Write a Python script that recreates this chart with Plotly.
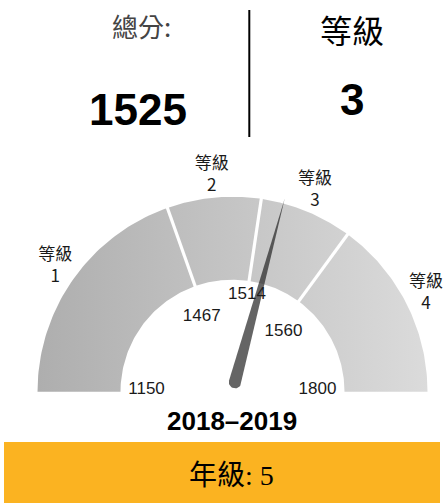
import math
import plotly.graph_objects as go

# ---------------- data ----------------
band_edges = [1150, 1467, 1514, 1560, 1800]
band_levels = [1, 2, 3, 4]
band_word = "等級"
score = 1525
score_label = "總分:"
level_label = "等級"
school_year = "2018–2019"
grade_label = "年級"
grade = 5

# ---------------- style / layout ----------------
W, H = 448, 503
CX, CY = 232.5, 391.7          # gauge centre (px from top-left)
R_IN, R_OUT = 112.0, 195.0
NEEDLE_TIP, NEEDLE_BASE, NEEDLE_W = 200.5, 10.0, 6.3
band_arc_deg = [70.5, 28.0, 27.7, 53.8]   # arc span of each band on the dial
gray_left, gray_right = "rgb(174,174,174)", "rgb(219,219,219)"
label_r = [86, 81, 98, 79, 85]
label_dtheta = [-1.1, 2.8, 0.0, -4.0, 1.1]
band_label_r = 217
needle_color = "rgba(35,35,35,0.70)"
FONT = "Liberation Sans, Arial, Noto Sans CJK TC"
CJK = "Noto Sans CJK TC, Liberation Sans"

# piecewise mapping: score -> dial angle (deg; 180 = left, 0 = right)
edge_angles = [180.0]
for a in band_arc_deg:
    edge_angles.append(edge_angles[-1] - a)


def score_to_angle(v):
    for i in range(len(band_edges) - 1):
        lo, hi = band_edges[i], band_edges[i + 1]
        if v <= hi or i == len(band_edges) - 2:
            f = (v - lo) / (hi - lo)
            return edge_angles[i] + f * (edge_angles[i + 1] - edge_angles[i])


def pol(r, deg):
    t = math.radians(deg)
    return CX + r * math.cos(t), CY - r * math.sin(t)


level = next(band_levels[i] for i in range(len(band_levels))
             if band_edges[i] <= score <= band_edges[i + 1])

fig = go.Figure()

# bands with horizontal gradient
for i in range(len(band_levels)):
    a0, a1 = edge_angles[i], edge_angles[i + 1]
    steps = 60
    angs = [a0 + (a1 - a0) * k / steps for k in range(steps + 1)]
    outer = [pol(R_OUT, a) for a in angs]
    inner = [pol(R_IN, a) for a in reversed(angs)]
    pts = outer + inner + [outer[0]]
    fig.add_trace(go.Scatter(
        x=[p[0] for p in pts], y=[p[1] for p in pts],
        mode="lines", fill="toself", line=dict(width=0),
        fillgradient=dict(type="horizontal",
                          colorscale=[[0, gray_left], [1, gray_right]],
                          start=CX - R_OUT, stop=CX + R_OUT),
        hoverinfo="skip", showlegend=False,
    ))

# white separators
for a in edge_angles[1:-1]:
    p0, p1 = pol(R_IN - 1, a), pol(R_OUT + 1, a)
    fig.add_trace(go.Scatter(
        x=[p0[0], p1[0]], y=[p0[1], p1[1]], mode="lines",
        line=dict(color="white", width=3.2), hoverinfo="skip", showlegend=False,
    ))

# tick labels at band edges
tl = [pol(r, score_to_angle(v) + d) for v, r, d in zip(band_edges, label_r, label_dtheta)]
fig.add_trace(go.Scatter(
    x=[p[0] for p in tl], y=[p[1] for p in tl],
    mode="text", text=[str(v) for v in band_edges],
    textfont=dict(family=FONT, size=17, color="#1a1a1a"),
    textposition="middle center", cliponaxis=False,
    hoverinfo="skip", showlegend=False,
))

# band labels
mids = [(edge_angles[i] + edge_angles[i + 1]) / 2 for i in range(len(band_levels))]
bl = [pol(band_label_r, m) for m in mids]
fig.add_trace(go.Scatter(
    x=[p[0] for p in bl], y=[p[1] for p in bl], mode="text",
    text=[f"{band_word}<br>{lv}" for lv in band_levels],
    textfont=dict(family=CJK, size=17, color="#1a1a1a"),
    textposition="middle center", cliponaxis=False,
    hoverinfo="skip", showlegend=False,
))

# needle
a = math.radians(score_to_angle(score))
ux, uy = math.cos(a), -math.sin(a)      # screen direction (y down)
vx, vy = -uy, ux
bx, by = CX + NEEDLE_BASE * ux, CY + NEEDLE_BASE * uy
tip = (CX + NEEDLE_TIP * ux, CY + NEEDLE_TIP * uy)
pts = [tip]
for k in range(0, 181, 10):
    phi = math.radians(k)
    pts.append((bx + NEEDLE_W * (math.cos(phi) * vx - math.sin(phi) * ux),
                by + NEEDLE_W * (math.cos(phi) * vy - math.sin(phi) * uy)))
pts.append(tip)
fig.add_trace(go.Scatter(
    x=[p[0] for p in pts], y=[p[1] for p in pts],
    mode="lines", fill="toself", fillcolor=needle_color,
    line=dict(width=0, color=needle_color), cliponaxis=False,
    hoverinfo="skip", showlegend=False,
))

ann = lambda text, x, y, font: dict(text=text, x=x, y=y, xref="x", yref="y",
                                    showarrow=False, xanchor="center", yanchor="middle",
                                    font=font)

fig.update_layout(
    width=W, height=H, autosize=False,
    margin=dict(l=0, r=0, t=0, b=0, pad=0),
    paper_bgcolor="white", plot_bgcolor="white",
    xaxis=dict(range=[0, W], visible=False, fixedrange=True),
    yaxis=dict(range=[H, 0], visible=False, fixedrange=True),
    shapes=[
        dict(type="line", xref="x", yref="y", x0=249.3, x1=249.3, y0=10, y1=137,
             line=dict(color="black", width=2)),
        dict(type="rect", xref="x", yref="y", layer="below",
             x0=4, x1=440, y0=442, y1=H, fillcolor="#FBB321", line=dict(width=0)),
    ],
    annotations=[
        ann(score_label, 141, 25, dict(family=CJK, size=26, color="#444444")),
        ann(f"<b>{score}</b>", 138, 109, dict(family=FONT, size=44, color="black")),
        ann(level_label, 351.7, 29, dict(family=CJK, size=32, color="black")),
        ann(f"<b>{level}</b>", 351.7, 99, dict(family=FONT, size=44, color="black")),
        ann(f"<b>{school_year}</b>", 231.5, 421, dict(family=FONT, size=26, color="black")),
        ann(f"{grade_label}: {grade}", 231, 475,
            dict(family="Liberation Serif, Noto Sans CJK TC", size=28, color="black")),
    ],
)

fig.write_html("out.html", config={"displayModeBar": False},
               post_script="document.body.style.margin='0';")
